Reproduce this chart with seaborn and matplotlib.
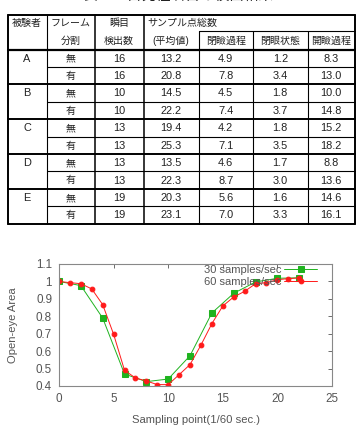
import numpy as np
import pandas as pd
import matplotlib
matplotlib.use("Agg")
import matplotlib.pyplot as plt
import seaborn as sns

# %% data: table
title = "表１　自発性瞬目の検出結果"
header_top = ["被験者", "フレーム", "瞬目", "サンプル点総数"]
header_sub = ["", "分割", "検出数", "(平均値)", "閉瞼過程", "閉眼状態", "開瞼過程"]
subjects = ["A", "B", "C", "D", "E"]
frame_split = ["無", "有"]
blink_counts = [16, 16, 10, 10, 13, 13, 13, 13, 19, 19]
mean_total = [13.2, 20.8, 14.5, 22.2, 19.4, 25.3, 13.5, 22.3, 20.3, 23.1]
closing = [4.9, 7.8, 4.5, 7.4, 4.2, 7.1, 4.6, 8.7, 5.6, 7.0]
closed = [1.2, 3.4, 1.8, 3.7, 1.8, 3.5, 1.7, 3.0, 1.6, 3.3]
opening = [8.3, 13.0, 10.0, 14.8, 15.2, 18.2, 8.8, 13.6, 14.6, 16.1]

# %% data: curve
x_30 = [0, 2, 4, 6, 8, 10, 12, 14, 16, 18, 20, 22]
y_30 = [1.0, 0.976, 0.79, 0.469, 0.425, 0.44, 0.574, 0.819, 0.932, 0.997, 1.018, 1.021]
x_60 = list(range(23))
y_60 = [1.0, 0.993, 0.987, 0.957, 0.867, 0.697, 0.49, 0.446, 0.429, 0.408, 0.408,
        0.465, 0.523, 0.635, 0.758, 0.859, 0.911, 0.943, 0.987, 0.993, 1.01, 1.016, 1.02]
labels = ["30 samples/sec", "60 samples/sec"]

sns.set_style("white")
plt.rcParams["font.family"] = ["Liberation Sans", "Noto Sans CJK JP", "DejaVu Sans"]

W, H = 356, 432
fig = plt.figure(figsize=(W / 100, H / 100), dpi=100)

# %% table drawn in pixel space
tab = fig.add_axes([0, 0, 1, 1])
tab.set_xlim(0, W)
tab.set_ylim(H, 0)
tab.axis("off")

col_edges = [7.5, 46.5, 94.5, 143.5, 198.5, 253, 307.5, 355]
y_top, y_mid, y_head = 14.5, 30.5, 49.5
row_h = 17.4
n_rows = len(blink_counts)
y_bot = y_head + n_rows * row_h
tcol = "#222222"
fs = 7.2
fs_num = 7.9

tab.text(W / 2, -3.5, title, ha="center", va="center", fontsize=10.5, color=tcol)

# outer and header lines
tab.plot([col_edges[0], col_edges[-1]], [y_top, y_top], color="k", lw=1.4)
tab.plot([col_edges[0], col_edges[-1]], [y_bot, y_bot], color="k", lw=1.4)
tab.plot([col_edges[0], col_edges[-1]], [y_head, y_head], color="k", lw=1.6)
tab.plot([col_edges[4], col_edges[-1]], [y_mid, y_mid], color="k", lw=0.8)
for i, xe in enumerate(col_edges):
    lw = 1.4 if i in (0, len(col_edges) - 1) else (1.1 if i in (2, 3) else 0.8)
    ys = y_mid if i in (4, 5, 6) else y_top
    tab.plot([xe, xe], [ys, y_bot], color="k", lw=lw)

for r in range(1, n_rows):
    yy = y_head + r * row_h
    if r % 2 == 0:
        tab.plot([col_edges[0], col_edges[-1]], [yy, yy], color="k", lw=1.4)
    else:
        tab.plot([col_edges[1], col_edges[-1]], [yy, yy], color="k", lw=0.8)

centers = [(a + b) / 2 for a, b in zip(col_edges[:-1], col_edges[1:])]
r1 = (y_top + y_mid) / 2 + 0.5
r2 = (y_mid + y_head) / 2 + 0.5
for c, txt in enumerate(header_top[:3]):
    tab.text(centers[c], r1, txt, ha="center", va="center", fontsize=fs, color=tcol)
tab.text(col_edges[3] + 4, r1, header_top[3], ha="left", va="center", fontsize=fs, color=tcol)
for c, txt in enumerate(header_sub):
    if txt:
        tab.text(centers[c], r2, txt, ha="center", va="center", fontsize=fs, color=tcol)

for r in range(n_rows):
    yc = y_head + (r + 0.5) * row_h + 0.5
    if r % 2 == 0:
        tab.text(centers[0], yc, subjects[r // 2], ha="center", va="center", fontsize=fs_num, color=tcol)
    tab.text(centers[1], yc, frame_split[r % 2], ha="center", va="center", fontsize=fs, color=tcol)
    vals = [f"{blink_counts[r]}", f"{mean_total[r]:.1f}",
            f"{closing[r]:.1f}", f"{closed[r]:.1f}", f"{opening[r]:.1f}"]
    for c, v in enumerate(vals, start=2):
        tab.text(centers[c], yc, v, ha="center", va="center", fontsize=fs_num, color=tcol)

# %% curve plot
ax_l, ax_r, ax_t, ax_b = 59, 332, 264, 386
ax = fig.add_axes([ax_l / W, 1 - ax_b / H, (ax_r - ax_l) / W, (ax_b - ax_t) / H])

df30 = pd.DataFrame({"x": x_30, "y": y_30})
df60 = pd.DataFrame({"x": x_60, "y": y_60})
sns.lineplot(data=df30, x="x", y="y", ax=ax, color="#1fb31f", lw=0.7,
             marker="s", markersize=4.3, markeredgecolor="#1fb31f", label=labels[0])
sns.lineplot(data=df60, x="x", y="y", ax=ax, color="#ff1a1a", lw=0.7,
             marker="o", markersize=3.4, markeredgecolor="#ff1a1a", label=labels[1])

grey = "#555555"
fs_ax = 8.4
ax.set_xlim(0, 25)
ax.set_ylim(0.4, 1.1)
ax.set_xticks(np.arange(0, 26, 5))
ax.set_yticks(np.round(np.arange(0.4, 1.11, 0.1), 1))
ax.yaxis.set_major_formatter(matplotlib.ticker.FormatStrFormatter("%g"))
ax.tick_params(direction="in", length=3, width=0.6, top=True, right=True,
               labelsize=fs_ax, colors=grey, labelcolor=grey, pad=5)
for s in ax.spines.values():
    s.set_color("#888888")
    s.set_linewidth(0.8)
ax.set_xlabel("Sampling point(1/60 sec.)", fontsize=8.1, color=grey, labelpad=7)
ax.set_ylabel("Open-eye Area", fontsize=8.1, color=grey, labelpad=13)

leg = ax.legend(loc="upper right", bbox_to_anchor=(0.95, 1.0), frameon=False,
                markerfirst=False, handlelength=3.0, handletextpad=0.2,
                labelspacing=0.2, borderaxespad=0, borderpad=0.1,
                fontsize=8.0, numpoints=1)
for t in leg.get_texts():
    t.set_color(grey)

fig.savefig("out.png", dpi=100)
